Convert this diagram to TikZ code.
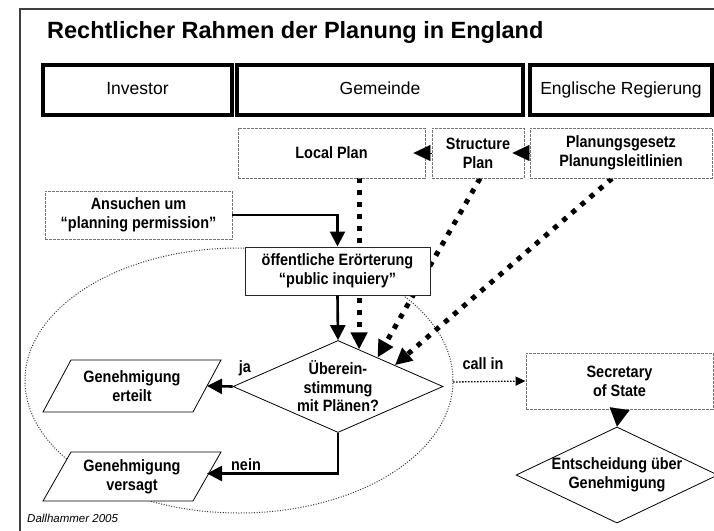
\documentclass[tikz,border=0pt]{standalone}
\usepackage{fontspec}
\setmainfont{Liberation Sans}
\newfontfamily\innerfont[FakeStretch=0.88]{Liberation Sans}
\usetikzlibrary{arrows.meta,shapes.geometric,calc,backgrounds}
\begin{document}
\begin{tikzpicture}[x=1pt,y=-1pt,
  innertext/.style={font=\innerfont\bfseries\fontsize{16.4}{19}\selectfont},
  headbox/.style={draw=black,line width=3.5pt,fill=white,minimum width=#1,minimum height=50pt,inner sep=0pt,text height=13pt,text depth=4pt,font=\fontsize{17.5}{20}\selectfont},
  planbox/.style={innertext,draw=black!55,line width=0.9pt,dash pattern=on 3pt off 1pt,fill=white,minimum width=#1,minimum height=50pt,inner sep=0pt,align=center},
  solidbox/.style={innertext,draw=black!85,line width=1pt,fill=white,minimum width=#1,minimum height=48pt,inner sep=0pt,align=center},
  decision/.style={font=\innerfont\bfseries\fontsize{16.4}{18.5}\selectfont,draw=black,line width=0.8pt,fill=white,shape=diamond,inner sep=0pt,align=center},
  outline/.style={draw=black,line width=0.8pt,fill=white},
  outtext/.style={innertext,inner sep=0pt,align=center},
  lbl/.style={innertext,inner sep=0pt},
  flow/.style={line width=2.6pt,-{Triangle[length=15pt,width=15pt]}},
  tiponly/.style={line width=0.1pt,-{Triangle[length=17pt,width=16pt]}},
  influence/.style={line width=5pt,dash pattern=on 5pt off 7pt,-{Triangle[length=17pt,width=16pt]}},
  callin/.style={line width=1.3pt,dash pattern=on 1.5pt off 1.5pt,-{Triangle[length=10pt,width=9pt]}},
  zone/.style={line width=1pt,dash pattern=on 1pt off 1.6pt,black!80}
]
\useasboundingbox (0,0) rectangle (714,530);
% frame
\draw[line width=1.2pt,black!75] (20,580) -- (20,9) -- (780,9);
% title
\node[anchor=base west,inner sep=0pt,font=\bfseries\fontsize{23.5}{28}\selectfont] (title) at (47,38) {Rechtlicher Rahmen der Planung in England};
% header row
\node[headbox=189pt] (inv) at (137.5,90) {Investor};
\node[headbox=286pt] (gem) at (380,90) {Gemeinde};
\node[headbox=182pt] (reg) at (621,90) {Englische Regierung};
% plan row
\node[planbox=187pt] (lp) at (331.5,153) {Local Plan};
\node[planbox=92pt] (sp) at (478,153) {Structure\\Plan};
\node[planbox=182pt] (pg) at (621,153) {Planungsgesetz\\Planungsleitlinien};
% process
\node[planbox=187pt,minimum height=48pt] (an) at (138.5,215) {Ansuchen um\\\char"201C planning permission\char"201D};
\node[solidbox=185pt] (oe) at (337.5,271) {öffentliche Erörterung\\\char"201C public inquiery\char"201D};
\node[decision,aspect=2.26,minimum width=210pt,minimum height=92pt] (d1) at (338,386.5) {Überein-\\stimmung\\mit Plänen?};
\draw[outline] (43,412) -- (193,412) -- (221,360) -- (71,360) -- cycle;
\node[outtext] (ge) at (132,386) {Genehmigung\\erteilt};
\coordinate (geR) at ($(ge.center)+(75,0)$);
\draw[outline] (43,501) -- (193,501) -- (221,452) -- (71,452) -- cycle;
\node[outtext] (gv) at (132,476.5) {Genehmigung\\versagt};
\coordinate (gvR) at ($(gv.center)+(75,-3)$);
\node[planbox=187pt,minimum height=56pt] (sec) at (619.5,381) {Secretary\\of State};
\node[decision,aspect=2.1,minimum width=198pt,minimum height=94pt] (d2) at (617,475) {Entscheidung über\\Genehmigung};
\node[anchor=west,inner sep=0pt,font=\itshape\fontsize{11.5}{13}\selectfont] (src) at (27,518) {Dallhammer 2005};
% labels
\node[lbl] (ja) at (245,368) {ja};
\node[lbl] (nein) at (246,465) {nein};
\node[lbl] (cl) at (483,364) {call in};
\coordinate (ci) at (453,382);
% background: zone and influence lines
\begin{scope}[on background layer]
\draw[zone] (239,380.5) ellipse [x radius=214, y radius=132.5];
\coordinate (tL) at ($(d1.north)!0.4!(d1.north east)$);
\coordinate (tS) at ($(d1.north)!0.75!(d1.north east)$);
\coordinate (tP) at ($(d1.north)!1.08!(d1.north east)$);
\draw[influence] (tL |- lp.south) -- (tL);
\draw[influence] ([xshift=2pt]sp.south) -- (tS);
\draw[influence] ([xshift=-9pt]pg.south) -- (tP);
\end{scope}
% connectors
\draw[tiponly] (sp.west) -- ([xshift=-12pt]lp.east);
\draw[tiponly] (pg.west) -- ([xshift=-12pt]sp.east);
\draw[flow] (an.east) -| (oe.north);
\draw[flow] (oe.south) -- (d1.north);
\draw[flow] (d1.west) -- (geR);
\draw[flow] (d1.south) |- (gvR);
\draw[callin] (ci) -- (sec.west);
\draw[line width=0.1pt,-{Triangle[length=18pt,width=20pt]}] (sec.south) -- (d2.north);
\end{tikzpicture}
\end{document}
